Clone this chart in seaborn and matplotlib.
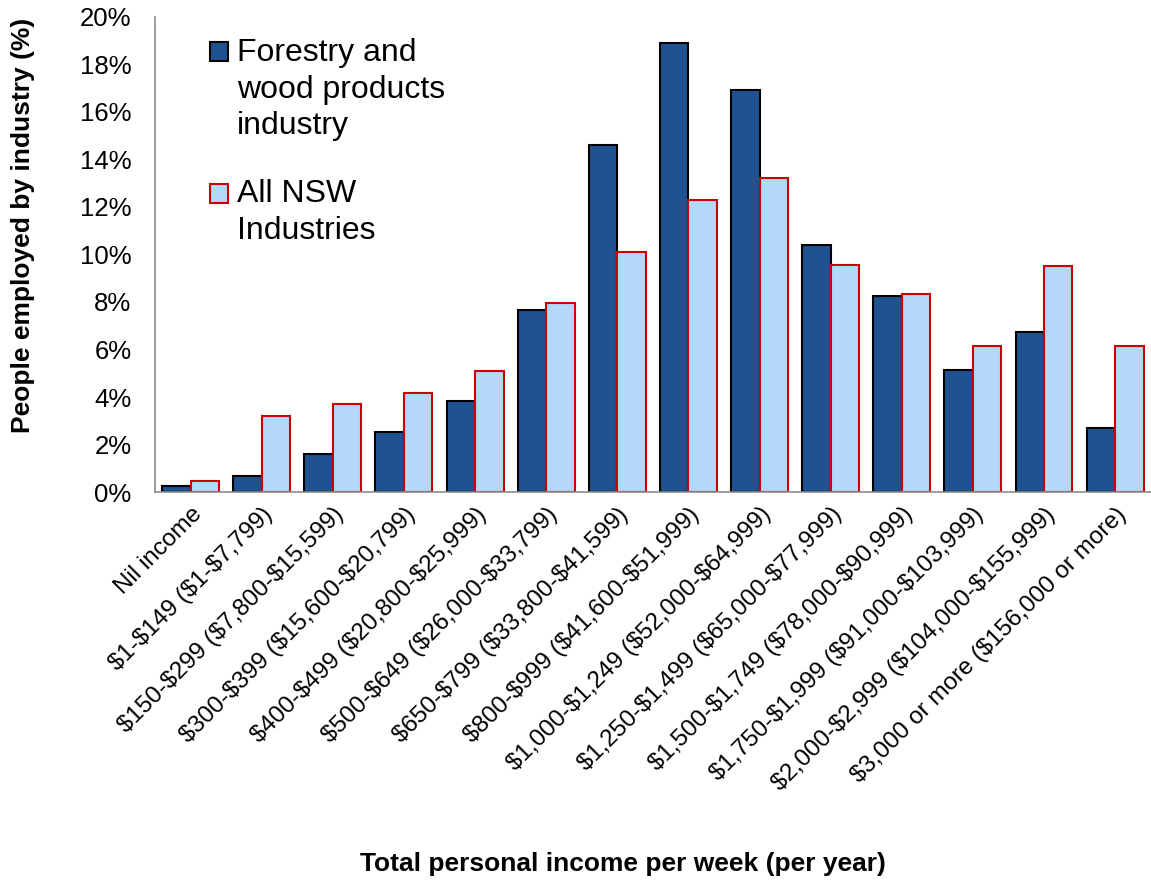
import matplotlib.pyplot as plt
import seaborn as sns
import pandas as pd
from matplotlib.ticker import FuncFormatter, MultipleLocator

# Income bands (weekly, with yearly in brackets)
categories = [
    "Nil income",
    "$1-$149 ($1-$7,799)",
    "$150-$299 ($7,800-$15,599)",
    "$300-$399 ($15,600-$20,799)",
    "$400-$499 ($20,800-$25,999)",
    "$500-$649 ($26,000-$33,799)",
    "$650-$799 ($33,800-$41,599)",
    "$800-$999 ($41,600-$51,999)",
    "$1,000-$1,249 ($52,000-$64,999)",
    "$1,250-$1,499 ($65,000-$77,999)",
    "$1,500-$1,749 ($78,000-$90,999)",
    "$1,750-$1,999 ($91,000-$103,999)",
    "$2,000-$2,999 ($104,000-$155,999)",
    "$3,000 or more ($156,000 or more)",
]

# Share of people employed (%)
forestry = [0.28, 0.67, 1.59, 2.54, 3.82, 7.65, 14.6, 18.88, 16.91, 10.39, 8.27, 5.14, 6.72, 2.71]
all_nsw = [0.46, 3.22, 3.72, 4.18, 5.11, 7.96, 10.12, 12.31, 13.21, 9.55, 8.34, 6.13, 9.52, 6.13]

series_names = ["Forestry and\nwood products\nindustry", "All NSW\nIndustries"]

df = pd.DataFrame({
    "income": categories * 2,
    "share": forestry + all_nsw,
    "series": [series_names[0]] * len(categories) + [series_names[1]] * len(categories),
})

sns.set_style("white")
plt.rcParams['font.family'] = ['Liberation Sans', 'DejaVu Sans']
plt.rcParams['text.parse_math'] = False
plt.rcParams['text.color'] = 'black'
plt.rcParams['xtick.labelcolor'] = 'black'
plt.rcParams['ytick.labelcolor'] = 'black'
plt.rcParams['axes.labelcolor'] = 'black'

fig = plt.figure(figsize=(11.51, 8.82), dpi=100)
ax = fig.add_axes([0.1347, 0.442, 0.865, 0.539])

colors = {series_names[0]: "#1F5291", series_names[1]: "#B3D8FA"}
edges = ["#000000", "#CC0000"]

sns.barplot(data=df, x="income", y="share", hue="series", palette=colors,
            width=0.8, gap=0, saturation=1, ax=ax, legend=False)

for cont, ec in zip(ax.containers, edges):
    for bar in cont:
        bar.set_edgecolor(ec)
        bar.set_linewidth(1.5)

ax.set_ylim(0, 20)
ax.set_xlim(-0.5, len(categories) - 0.5)
ax.yaxis.set_major_locator(MultipleLocator(2))
ax.yaxis.set_major_formatter(FuncFormatter(lambda v, p: f"{v:.0f}%"))

for s in ["top", "right"]:
    ax.spines[s].set_visible(False)
for s in ["left", "bottom"]:
    ax.spines[s].set_color("#8C8C8C")
    ax.spines[s].set_linewidth(1.2)

ax.set_xticks([i - 0.5 for i in range(len(categories) + 1)], minor=True)
ax.tick_params(axis="x", which="minor", length=7, color="#8C8C8C", width=1.2, direction="out")
ax.tick_params(axis="x", which="major", length=0, labelsize=17.5, pad=8)
ax.tick_params(axis="y", length=7, color="#8C8C8C", width=1.2, direction="out", labelsize=18.5, pad=10)
ax.set_xticks(range(len(categories)))
ax.set_xticklabels(categories, rotation=45, ha="right", rotation_mode="anchor")

ax.set_xlabel("Total personal income per week (per year)", fontsize=19, fontweight="bold", va="top")
ax.xaxis.set_label_coords(0.47, -0.756)
ax.set_ylabel("People employed by industry (%)", fontsize=19, fontweight="bold")
ax.yaxis.set_label_coords(-0.1205, 0.562)

handles = [ax.containers[0][0], ax.containers[1][0]]
fs = 23
leg = ax.legend(handles, series_names, loc="upper left", bbox_to_anchor=(0.0552, 0.955),
                fontsize=fs, frameon=False, labelspacing=1.2, handlelength=0.55,
                handleheight=0.55, handletextpad=0.3, borderpad=0, borderaxespad=0)
for t in leg.get_texts():
    t.set_linespacing(1.28)
# put each legend square beside the first line of its label
for h, name in zip(leg.legend_handles, series_names):
    n = name.count("\n") + 1
    h.set_y(h.get_y() + (n - 1) / 2 * 27.5)

plt.savefig("out.png", dpi=100)
